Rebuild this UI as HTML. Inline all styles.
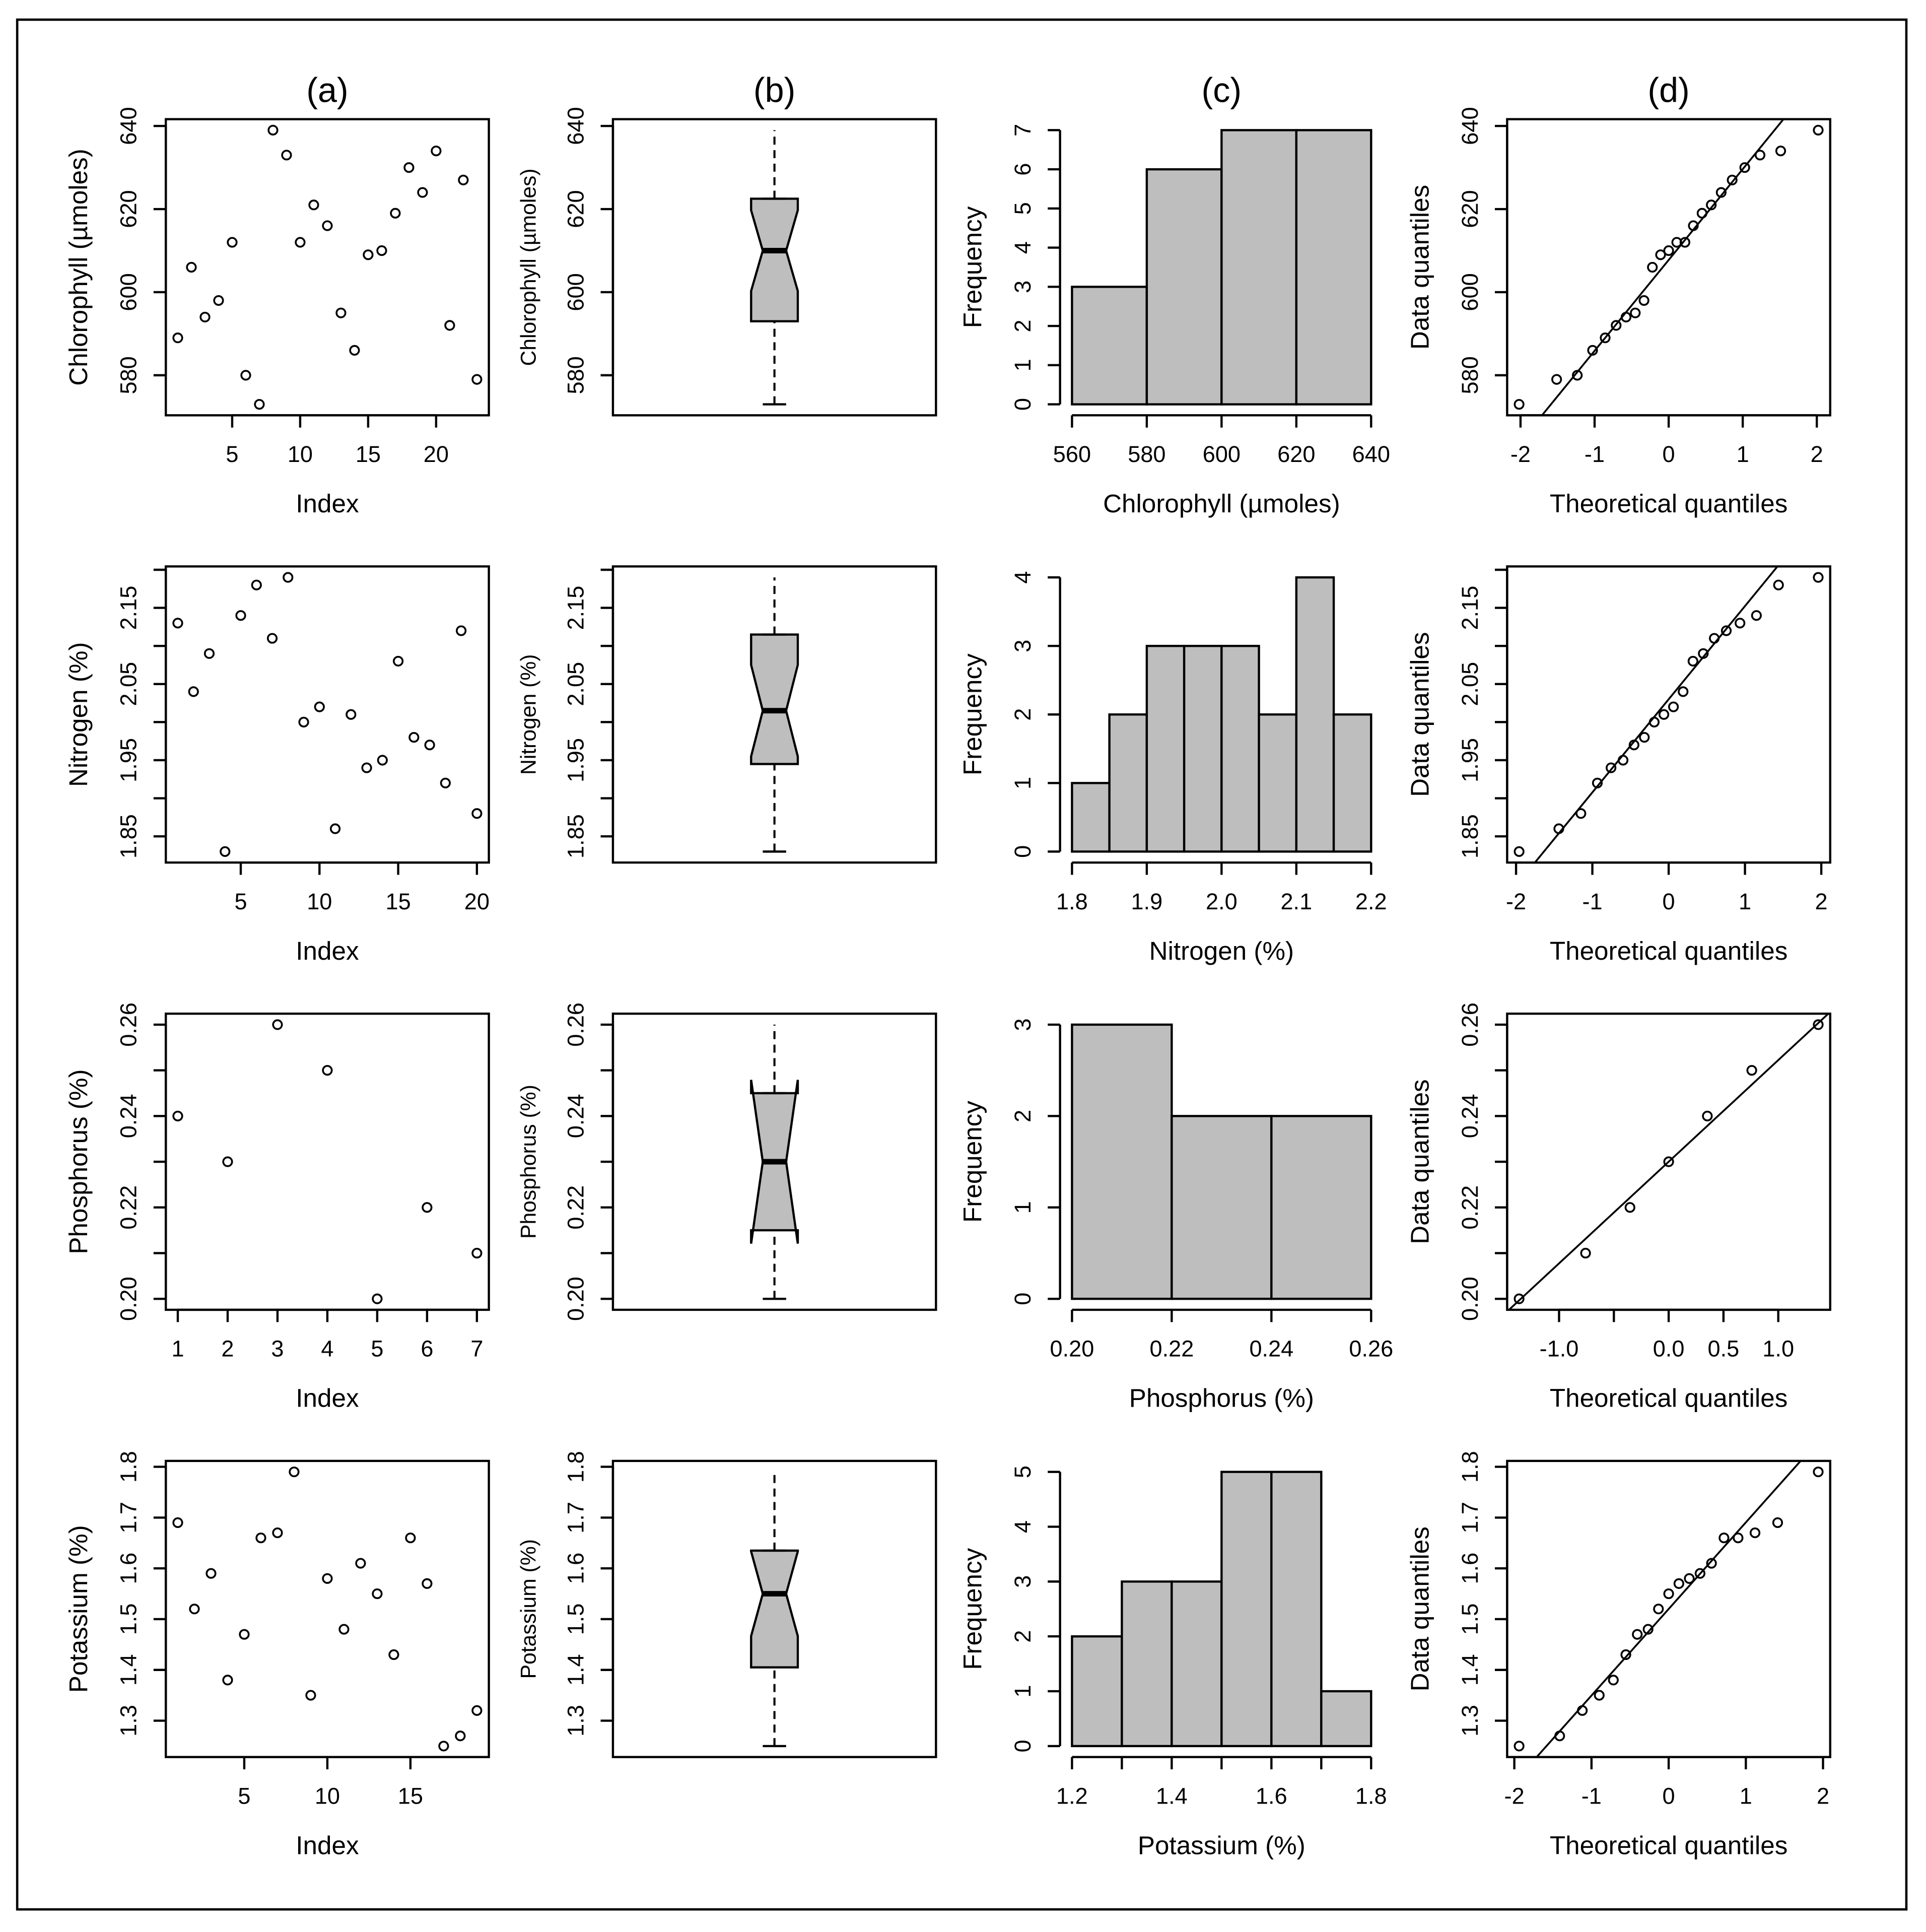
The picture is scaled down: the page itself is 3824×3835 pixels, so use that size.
<!DOCTYPE html>
<html><head><meta charset="utf-8"><style>
html,body{margin:0;padding:0;background:#fff}
svg{display:block}
text{font-family:"Liberation Sans",Arial,sans-serif;fill:#000}
</style></head><body>
<svg id="chart" xmlns="http://www.w3.org/2000/svg" width="3824" height="3835" viewBox="0 0 1568 1572.4" preserveAspectRatio="none">
<rect x="14" y="16" width="1538" height="1538" fill="none" stroke="#000" stroke-width="1.9"/>
<text x="266.5" y="83" font-size="28" text-anchor="middle">(a)</text>
<text x="630.5" y="83" font-size="28" text-anchor="middle">(b)</text>
<text x="994.5" y="83" font-size="28" text-anchor="middle">(c)</text>
<text x="1358.5" y="83" font-size="28" text-anchor="middle">(d)</text>
</svg>
<script>
// ---- data ----
const chlorophyll=[589,606,594,598,612,580,573,639,633,612,621,616,595,586,609,610,619,630,624,634,592,627,579];
const nitrogen=[2.13,2.04,2.09,1.83,2.14,2.18,2.11,2.19,2.00,2.02,1.86,2.01,1.94,1.95,2.08,1.98,1.97,1.92,2.12,1.88];
const phosphorus=[0.24,0.23,0.26,0.25,0.20,0.22,0.21];
const potassium=[1.69,1.52,1.59,1.38,1.47,1.66,1.67,1.79,1.35,1.58,1.48,1.61,1.55,1.43,1.66,1.57,1.25,1.27,1.32];
const variableNames=["Chlorophyll (µmoles)","Nitrogen (%)","Phosphorus (%)","Potassium (%)"];
const varKeys=["chlorophyll","nitrogen","phosphorus","potassium"];
// histogram breaks
const chlBreaks=[560,580,600,620,640];
const nitBreaks=[1.80,1.85,1.90,1.95,2.00,2.05,2.10,2.15,2.20];
const phoBreaks=[0.20,0.22,0.24,0.26];
const potBreaks=[1.2,1.3,1.4,1.5,1.6,1.7,1.8];
// value-axis ticks / labels
const chlTicks=[580,600,620,640];      const chlLabels=["580","600","620","640"];
const nitTicks=[1.85,1.90,1.95,2.00,2.05,2.10,2.15,2.20]; const nitLabels=["1.85","","1.95","","2.05","","2.15",""];
const phoTicks=[0.20,0.21,0.22,0.23,0.24,0.25,0.26]; const phoLabels=["0.20","","0.22","","0.24","","0.26"];
const potTicks=[1.3,1.4,1.5,1.6,1.7,1.8]; const potLabels=["1.3","1.4","1.5","1.6","1.7","1.8"];
// index ticks
const chlIdxTicks=[5,10,15,20]; const nitIdxTicks=[5,10,15,20]; const phoIdxTicks=[1,2,3,4,5,6,7]; const potIdxTicks=[5,10,15];
// histogram x ticks / labels
const chlHistTicks=[560,580,600,620,640]; const chlHistLabels=["560","580","600","620","640"];
const nitHistTicks=[1.8,1.9,2.0,2.1,2.2]; const nitHistLabels=["1.8","1.9","2.0","2.1","2.2"];
const phoHistTicks=[0.20,0.22,0.24,0.26]; const phoHistLabels=["0.20","0.22","0.24","0.26"];
const potHistTicks=[1.2,1.3,1.4,1.5,1.6,1.7,1.8]; const potHistLabels=["1.2","","1.4","","1.6","","1.8"];
// QQ theoretical ticks
const qqTicksA=[-2,-1,0,1,2]; const qqLabelsA=["-2","-1","0","1","2"];
const qqTicksP=[-1,-0.5,0,0.5,1]; const qqLabelsP=["-1.0","","0.0","0.5","1.0"];

const rowsData=[chlorophyll,nitrogen,phosphorus,potassium];
const rowsBreaks=[chlBreaks,nitBreaks,phoBreaks,potBreaks];
const rowsTicks=[chlTicks,nitTicks,phoTicks,potTicks];
const rowsLabels=[chlLabels,nitLabels,phoLabels,potLabels];
const rowsIdx=[chlIdxTicks,nitIdxTicks,phoIdxTicks,potIdxTicks];
const rowsHT=[chlHistTicks,nitHistTicks,phoHistTicks,potHistTicks];
const rowsHL=[chlHistLabels,nitHistLabels,phoHistLabels,potHistLabels];
const rowsQT=[qqTicksA,qqTicksA,qqTicksP,qqTicksA];
const rowsQL=[qqLabelsA,qqLabelsA,qqLabelsP,qqLabelsA];

// ---- helpers ----
const NS='http://www.w3.org/2000/svg';
const svg=document.getElementById('chart');
function mk(tag,attrs,parent){const e=document.createElementNS(NS,tag);for(const k in attrs)e.setAttribute(k,attrs[k]);(parent||svg).appendChild(e);return e;}
function lin(d0,d1,p0,p1){return v=>p0+(v-d0)/(d1-d0)*(p1-p0);}
function pad(lo,hi){const d=(hi-lo)*0.04;return [lo-d,hi+d];}
function qnorm(p){
 const a=[-3.969683028665376e+01,2.209460984245205e+02,-2.759285104469687e+02,1.383577518672690e+02,-3.066479806614716e+01,2.506628277459239e+00];
 const b=[-5.447609879822406e+01,1.615858368580409e+02,-1.556989798598866e+02,6.680131188771972e+01,-1.328068155288572e+01];
 const c=[-7.784894002430293e-03,-3.223964580411365e-01,-2.400758277161838e+00,-2.549732539343734e+00,4.374664141464968e+00,2.938163982698783e+00];
 const d=[7.784695709041462e-03,3.224671290700398e-01,2.445134137142996e+00,3.754408661907416e+00];
 const pl=0.02425;let q,r;
 if(p<pl){q=Math.sqrt(-2*Math.log(p));return (((((c[0]*q+c[1])*q+c[2])*q+c[3])*q+c[4])*q+c[5])/((((d[0]*q+d[1])*q+d[2])*q+d[3])*q+1);}
 if(p>1-pl){q=Math.sqrt(-2*Math.log(1-p));return -(((((c[0]*q+c[1])*q+c[2])*q+c[3])*q+c[4])*q+c[5])/((((d[0]*q+d[1])*q+d[2])*q+d[3])*q+1);}
 q=p-0.5;r=q*q;return (((((a[0]*r+a[1])*r+a[2])*r+a[3])*r+a[4])*r+a[5])*q/(((((b[0]*r+b[1])*r+b[2])*r+b[3])*r+b[4])*r+1);
}
function q7(s,p){const h=(s.length-1)*p;const lo=Math.floor(h);const hi=Math.ceil(h);return s[lo]+(h-lo)*(s[hi]-s[lo]);}
function fivenum(x){const s=[...x].sort((a,b)=>a-b);const n=s.length;const n4=Math.floor((n+3)/2)/2;
 const idx=[1,n4,(n+1)/2,n+1-n4,n];return idx.map(i=>0.5*(s[Math.floor(i)-1]+s[Math.ceil(i)-1]));}

const COLS=[135,499,863,1227], ROWS=[97,461,825,1189], W=263, H=241, TL=10, FS=18.5, LW=1.8;

function axisBottom(g,sx,ticks,labels,y){
 const l=mk('line',{x1:sx(ticks[0]),x2:sx(ticks[ticks.length-1]),y1:y,y2:y,stroke:'#000','stroke-width':LW},g);
 
 
 ticks.forEach((t,i)=>{
  const tk=mk('line',{x1:sx(t),x2:sx(t),y1:y,y2:y+TL,stroke:'#000','stroke-width':LW},g);
  
  
  if(labels[i]){const tx=mk('text',{x:sx(t),y:y+38,'font-size':FS,'text-anchor':'middle'},g);tx.textContent=labels[i];
   
   }
 });
}
function axisLeft(g,sy,ticks,labels,x){
 const l=mk('line',{x1:x,x2:x,y1:sy(ticks[0]),y2:sy(ticks[ticks.length-1]),stroke:'#000','stroke-width':LW},g);
 
 
 ticks.forEach((t,i)=>{
  const tk=mk('line',{x1:x-TL,x2:x,y1:sy(t),y2:sy(t),stroke:'#000','stroke-width':LW},g);
  
  
  if(labels[i]){const bx=x-24,by=sy(t);const tx=mk('text',{transform:`translate(${bx},${by}) rotate(-90)`,'font-size':FS,'text-anchor':'middle'},g);tx.textContent=labels[i];
   
   }
 });
}
function xTitle(g,txt,cx,bottom){const t=mk('text',{x:cx,y:bottom+79,'font-size':21,'text-anchor':'middle'},g);t.textContent=txt;
 
 }
function yTitle(g,txt,left,cy,fs,off){const t=mk('text',{transform:`translate(${left-off},${cy}) rotate(-90)`,'font-size':fs,'text-anchor':'middle'},g);t.textContent=txt;
 
 }
function frame(g,L,T){const r=mk('rect',{x:L,y:T,width:W,height:H,fill:'none',stroke:'#000','stroke-width':LW},g);
 
 }

rowsData.forEach((data,ri)=>{
 const T=ROWS[ri], B=T+H, n=data.length, key=varKeys[ri];
 const mn=Math.min(...data), mx=Math.max(...data);
 const [y0,y1]=pad(mn,mx);
 const sy=lin(y0,y1,B,T);

 // (a) index plot
 {const L=COLS[0];const g=mk('g',{});
  
  
  const [x0,x1]=pad(1,n);const sx=lin(x0,x1,L,L+W);
  data.forEach((v,i)=>{const c=mk('circle',{cx:sx(i+1),cy:sy(v),r:3.6,fill:'none',stroke:'#000','stroke-width':1.5},g);
   
   });
  frame(g,L,T);
  axisBottom(g,sx,rowsIdx[ri],rowsIdx[ri].map(String),B);
  axisLeft(g,sy,rowsTicks[ri],rowsLabels[ri],L);
  xTitle(g,'Index',L+W/2,B);
  yTitle(g,variableNames[ri],L,T+H/2,21,64);
 }
 // (b) notched boxplot
 {const L=COLS[1];const g=mk('g',{});
  
  
  const f=fivenum(data);const cx=L+W/2,hw=19,mw=9.5;
  const nd=1.58*(f[3]-f[1])/Math.sqrt(n);const nl=f[2]-nd,nu=f[2]+nd;
  const pts=[[cx-hw,f[1]],[cx-hw,nl],[cx-mw,f[2]],[cx-hw,nu],[cx-hw,f[3]],[cx+hw,f[3]],[cx+hw,nu],[cx+mw,f[2]],[cx+hw,nl],[cx+hw,f[1]]];
  const poly=mk('polygon',{points:pts.map(p=>p[0]+','+sy(p[1])).join(' '),fill:'#bebebe',stroke:'#000','stroke-width':1.8},g);
  
  
  const med=mk('line',{x1:cx-mw,x2:cx+mw,y1:sy(f[2]),y2:sy(f[2]),stroke:'#000','stroke-width':4.5},g);
  
  
  [[f[0],f[1]],[f[3],f[4]]].forEach(([a,b])=>{
   const w=mk('line',{x1:cx,x2:cx,y1:sy(a),y2:sy(b),stroke:'#000','stroke-width':1.7,'stroke-dasharray':'6.5 4.5'},g);
   
   
   const s=mk('line',{x1:cx-mw,x2:cx+mw,y1:sy(a),y2:sy(a),stroke:'#000','stroke-width':1.8},g);
   
   
  });
  frame(g,L,T);
  axisLeft(g,sy,rowsTicks[ri],rowsLabels[ri],L);
  yTitle(g,variableNames[ri],L,T+H/2,17.5,63);
 }
 // (c) histogram
 {const L=COLS[2];const g=mk('g',{});
  
  
  const br=rowsBreaks[ri];const eps=1e-9;
  const counts=br.slice(1).map((b,i)=>data.filter(v=>(i===0?v>=br[0]-eps:v>br[i]+eps)&&v<=b+eps).length);
  const cmax=Math.max(...counts);
  const [hx0,hx1]=pad(br[0],br[br.length-1]);const sx=lin(hx0,hx1,L,L+W);
  const [hy0,hy1]=pad(0,cmax);const shy=lin(hy0,hy1,B,T);
  counts.forEach((c,i)=>{const r=mk('rect',{x:sx(br[i]),y:shy(c),width:sx(br[i+1])-sx(br[i]),height:shy(0)-shy(c),fill:'#bebebe',stroke:'#000','stroke-width':1.8},g);
   
   });
  const yt=[];for(let k=0;k<=cmax;k++)yt.push(k);
  axisBottom(g,sx,rowsHT[ri],rowsHL[ri],B);
  axisLeft(g,shy,yt,yt.map(String),L);
  xTitle(g,variableNames[ri],L+W/2,B);
  yTitle(g,'Frequency',L,T+H/2,21,64);
 }
 // (d) normal QQ
 {const L=COLS[3];const g=mk('g',{});
  
  
  const a=n<=10?3/8:0.5;const s=[...data].sort((p,q)=>p-q);
  const th=s.map((v,i)=>qnorm((i+1-a)/(n+1-2*a)));
  const [x0,x1]=pad(th[0],th[n-1]);const sx=lin(x0,x1,L,L+W);
  const cp=mk('clipPath',{id:'clip'+ri},g);mk('rect',{x:L,y:T,width:W,height:H},cp);
  const qy1=q7(s,0.25),qy2=q7(s,0.75),qx1=qnorm(0.25),qx2=qnorm(0.75);
  const slope=(qy2-qy1)/(qx2-qx1),icpt=qy1-slope*qx1;
  const ln=mk('line',{x1:sx(x0),y1:sy(icpt+slope*x0),x2:sx(x1),y2:sy(icpt+slope*x1),stroke:'#000','stroke-width':1.5,'clip-path':`url(#clip${ri})`},g);
  
  
  s.forEach((v,i)=>{const c=mk('circle',{cx:sx(th[i]),cy:sy(v),r:3.6,fill:'none',stroke:'#000','stroke-width':1.5},g);
   
   });
  frame(g,L,T);
  axisBottom(g,sx,rowsQT[ri],rowsQL[ri],B);
  axisLeft(g,sy,rowsTicks[ri],rowsLabels[ri],L);
  xTitle(g,'Theoretical quantiles',L+W/2,B);
  yTitle(g,'Data quantiles',L,T+H/2,21,64);
 }
});
</script>
</body></html>
